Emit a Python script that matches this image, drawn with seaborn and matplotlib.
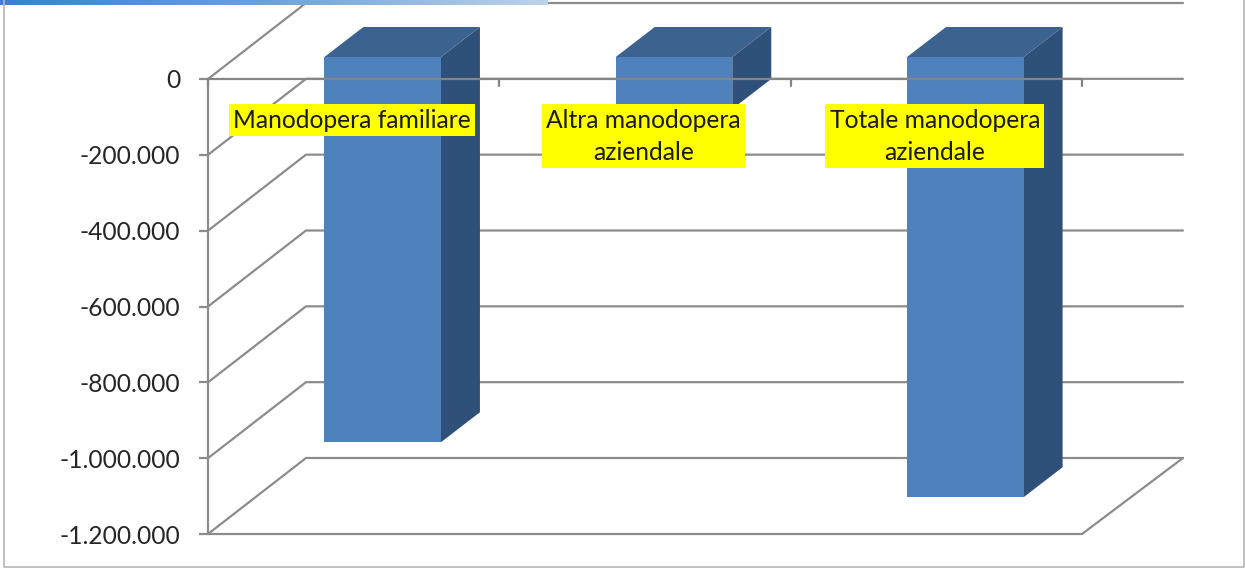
import numpy as np
import pandas as pd
import matplotlib
matplotlib.use("Agg")
import matplotlib.pyplot as plt
from matplotlib.colors import LinearSegmentedColormap
from matplotlib.patches import Polygon
from matplotlib.transforms import Affine2D
import seaborn as sns

categories = ["Manodopera familiare", "Altra manodopera\naziendale", "Totale manodopera\naziendale"]
values = [-1016000, -137000, -1161000]
yticks = [0, -200000, -400000, -600000, -800000, -1000000, -1200000]

W, H = 1245, 568
L, R, T, B = 208, 1082, 79, 534  # plot box in pixels
WALL = (98, 76)      # depth of the back wall
FRONT = (29, 22)     # where the bar front sits
DEPTH = (39, 30)     # bar depth
GRID = "#8c8c8c"

sns.set_theme(style="white")
plt.rcParams["font.family"] = ["Lato", "DejaVu Sans"]

fig = plt.figure(figsize=(W / 100, H / 100), dpi=100, facecolor="white")
ax = fig.add_axes([L / W, 1 - B / H, (R - L) / W, (B - T) / H])
ax.patch.set_alpha(0)

df = pd.DataFrame({"cat": categories, "val": values})
sns.barplot(data=df, x="cat", y="val", color="#4f81bd", saturation=1, width=0.40, ax=ax, zorder=3)
ax.set_xlim(-0.5, 2.5)
ax.set_ylim(-1200000, 0)
ax.set_xlabel("")
ax.set_ylabel("")
ax.set_xticks([])
ax.set_yticks(yticks)
ax.set_yticklabels([f"{v:,}".replace(",", ".") for v in yticks], fontsize=17.7, color="#262626")
ax.tick_params(axis="y", length=6.5, width=1.6, color=GRID, pad=13.5, left=True)
for s in ["top", "right", "bottom"]:
    ax.spines[s].set_visible(False)
ax.spines["left"].set_color(GRID)
ax.spines["left"].set_linewidth(1.6)

# grid lines: diagonal on the side wall, then along the back wall
for v in yticks:
    x0, y0 = ax.transData.transform((-0.5, v))
    ax.add_line(plt.Line2D([x0, x0 + WALL[0], 1183], [y0, y0 + WALL[1], y0 + WALL[1]], transform=None,
                           color=GRID, lw=1.6, zorder=1, clip_on=False))

# floor front edge and right diagonal
xa, ya = ax.transData.transform((-0.5, -1200000))
xb, yb = ax.transData.transform((2.5, -1200000))
ax.add_line(plt.Line2D([xa, xb, 1183], [ya, yb, yb + WALL[1]], transform=None,
                       color=GRID, lw=1.6, zorder=1, clip_on=False))

# bar front moved into the chart depth, side and top faces built from it
for bar in ax.patches[:3]:
    bar.set_transform(ax.transData + Affine2D().translate(FRONT[0], FRONT[1]))
    bar.set_clip_on(False)
    bar.set_linewidth(0)
    (x0, y0), (x1, y1) = bar.get_data_transform().transform(
        [(bar.get_x(), bar.get_y()), (bar.get_x() + bar.get_width(), bar.get_y() + bar.get_height())])
    top, bot = max(y0, y1), min(y0, y1)
    side = [(x1, top), (x1 + DEPTH[0], top + DEPTH[1]), (x1 + DEPTH[0], bot + DEPTH[1]), (x1, bot)]
    cap = [(x0, top), (x0 + DEPTH[0], top + DEPTH[1]), (x1 + DEPTH[0], top + DEPTH[1]), (x1, top)]
    ax.add_patch(Polygon(side, closed=True, transform=None, fc="#2f5078", ec="none", zorder=2.5, clip_on=False))
    ax.add_patch(Polygon(cap, closed=True, transform=None, fc="#3c628f", ec="none", zorder=2.5, clip_on=False))

# zero line with its tick marks, over the bars
ax.axhline(0, color="#858585", lw=1.6, zorder=4, clip_on=False)
for i in [-0.5, 0.5, 1.5, 2.5]:
    ax.plot([i, i], [0, -18000], color="#858585", lw=1.6, zorder=4, clip_on=False)

# category labels on yellow
for i, c in enumerate(categories):
    ax.text(i - 0.005, -78000, c, ha="center", va="top", fontsize=17.7, color="#1a1a1a", linespacing=1.5, zorder=5,
            bbox=dict(fc="#ffff00", ec="none", pad=3))

# picture frame and title strip
fig.add_artist(plt.Line2D([3.5 / W, 3.5 / W, 1244 / W, 1244 / W], [1, 1.5 / H, 1.5 / H, 1], color="#b5b5b5", lw=1.2))
strip = fig.add_axes([0, 1 - 5 / H, 548 / W, 5 / H])
strip.imshow(np.linspace(0, 1, 256)[None, :], aspect="auto",
             cmap=LinearSegmentedColormap.from_list("s", ["#3c80cc", "#6ea3d8", "#bcd3ea"]))
strip.axis("off")

fig.savefig("out.png", dpi=100)
